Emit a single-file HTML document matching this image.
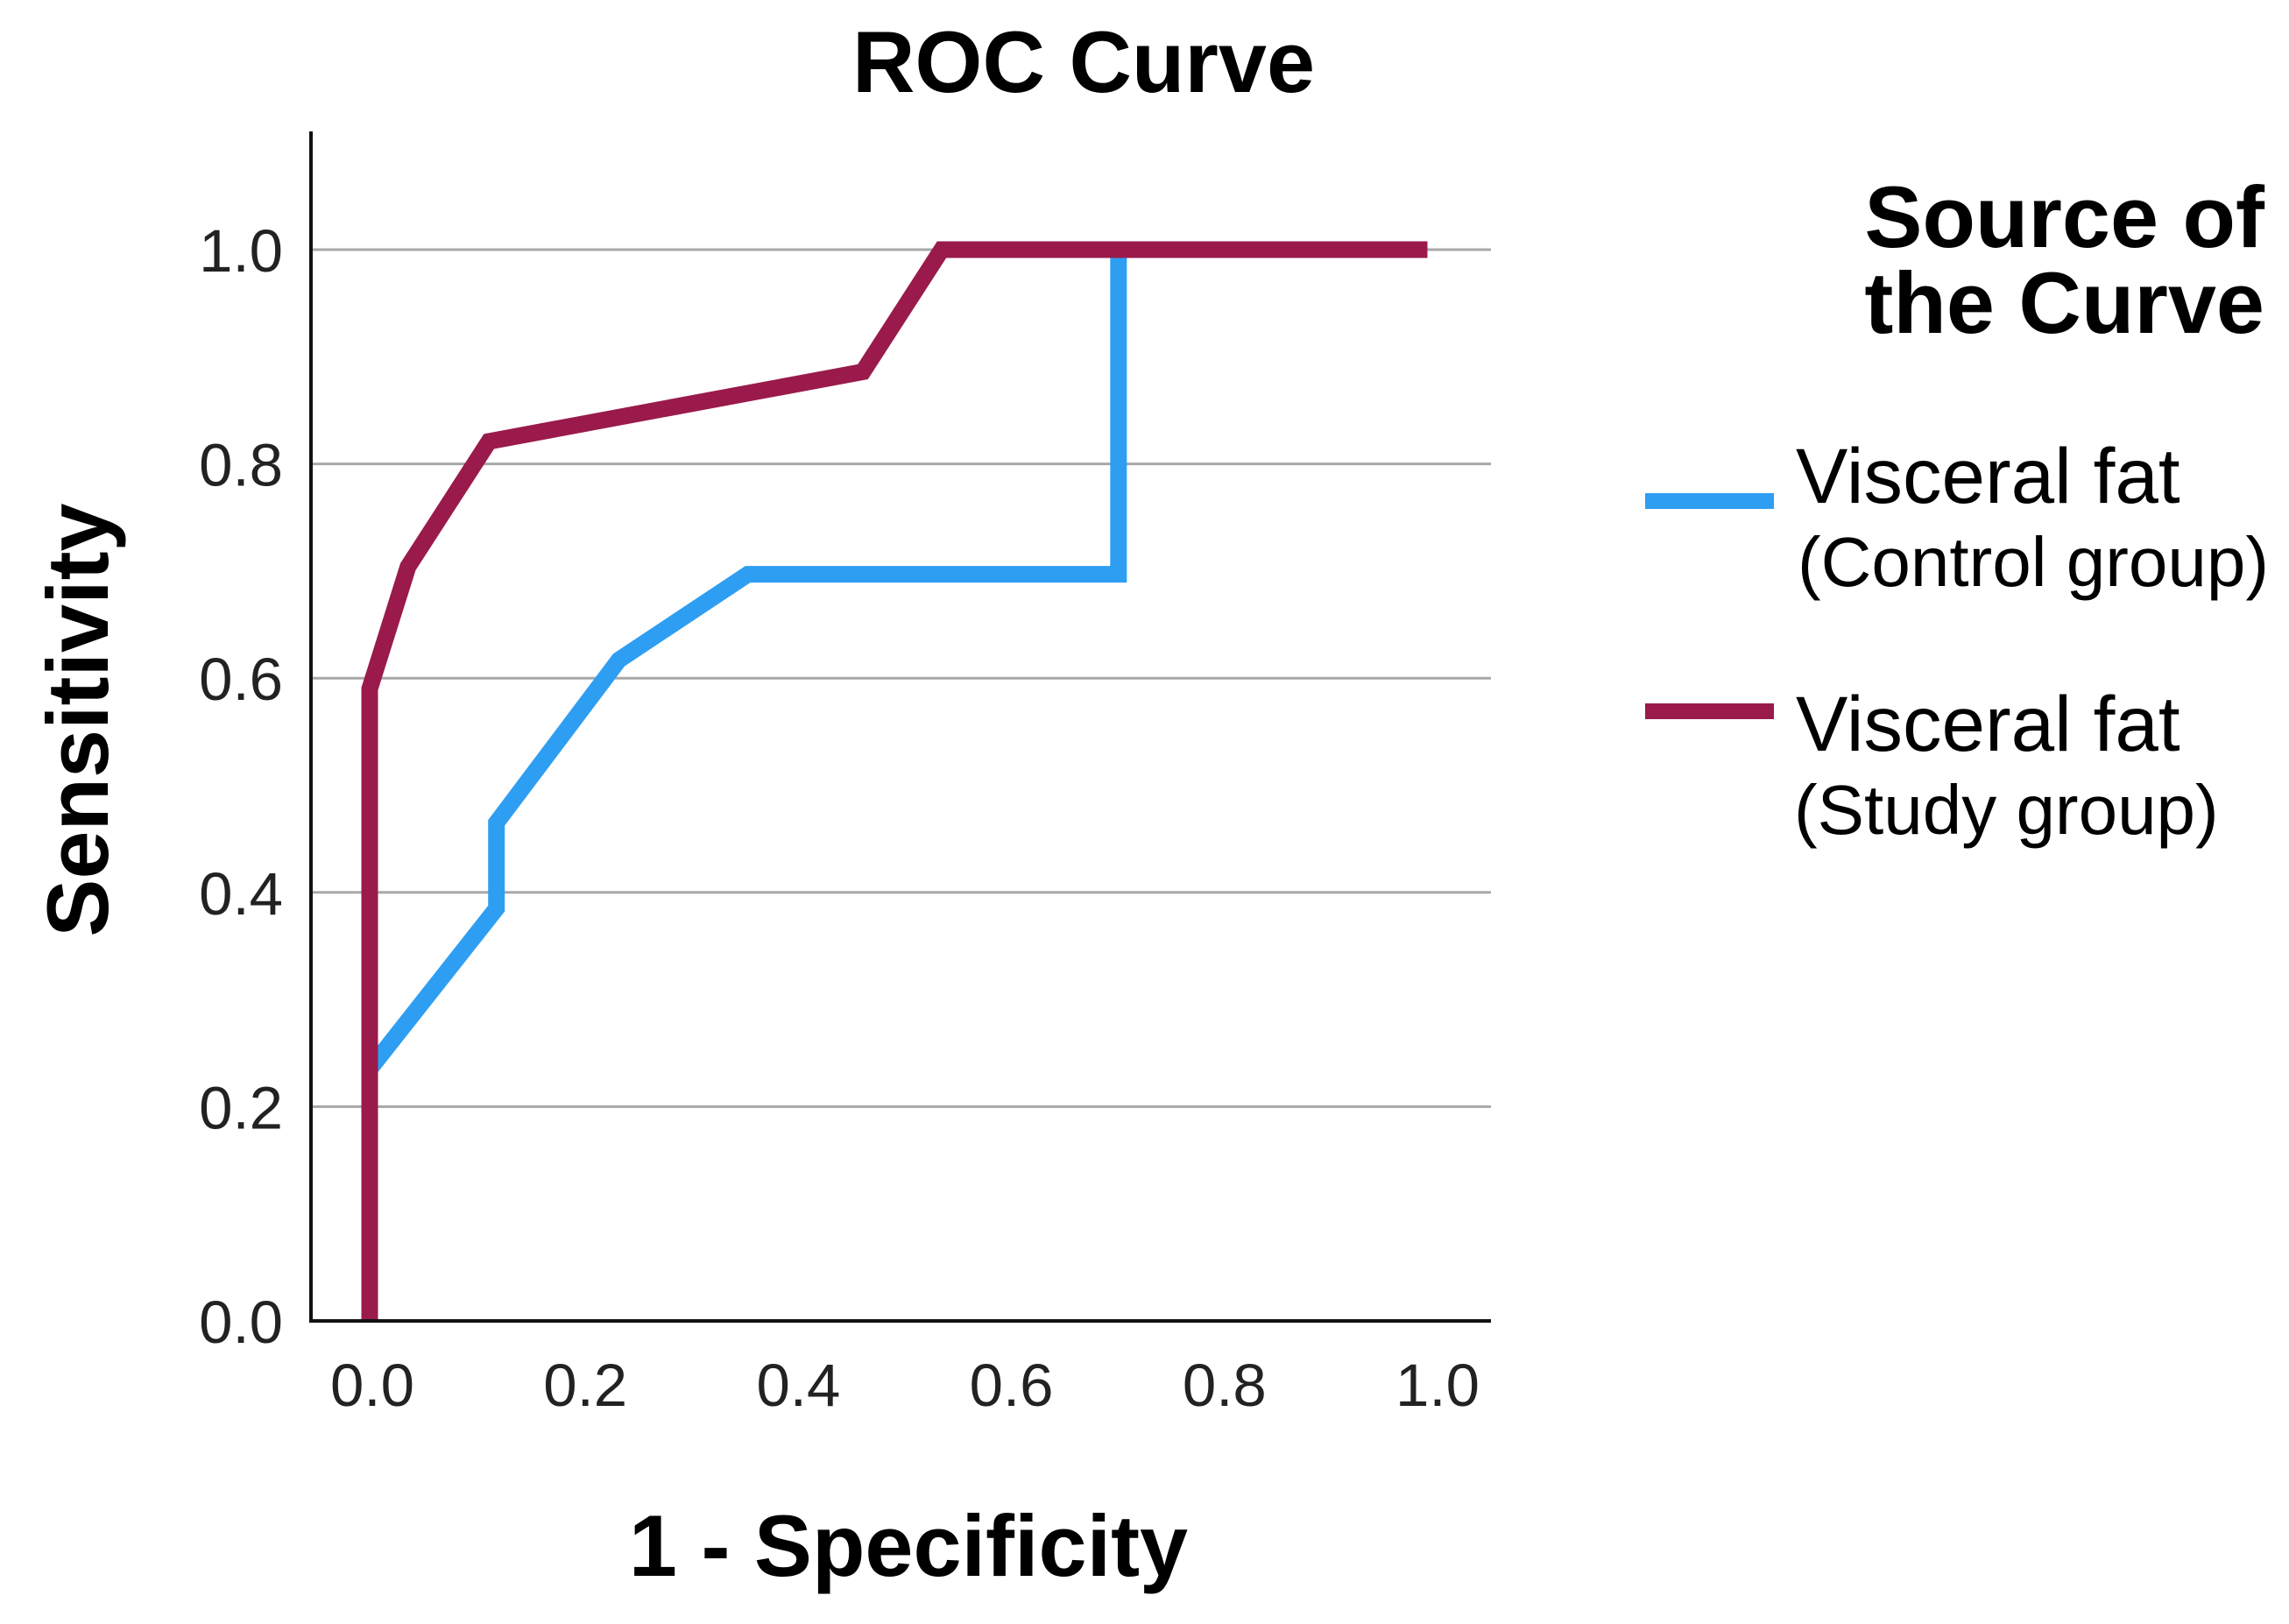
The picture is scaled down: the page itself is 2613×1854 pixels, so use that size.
<!DOCTYPE html>
<html><head><meta charset="utf-8"><style>
html,body{margin:0;padding:0;background:#fff;}
svg{display:block;font-family:"Liberation Sans",Arial,sans-serif;}
</style></head><body>
<svg id="chart" width="2613" height="1854" viewBox="0 0 2613 1854">
<text x="1237" y="105" text-anchor="middle" font-size="99" font-weight="bold">ROC Curve</text>
<text transform="translate(123,822) rotate(-90)" text-anchor="middle" font-size="99" font-weight="bold">Sensitivity</text>
<text x="1037" y="1799" text-anchor="middle" font-size="99" font-weight="bold">1 - Specificity</text>
<g id="grid"></g>
<g id="ticks"></g>
<g id="series"></g>
<line x1="355" y1="150" x2="355" y2="1510" stroke="#111" stroke-width="4"/>
<line x1="353" y1="1508" x2="1702" y2="1508" stroke="#111" stroke-width="4"/>
<g>
<text x="2585" y="282" text-anchor="end" font-size="99" font-weight="bold">Source of</text>
<text x="2585" y="380" text-anchor="end" font-size="99" font-weight="bold">the Curve</text>
<g>
<line x1="1878" y1="572" x2="2025" y2="572" stroke="#2E9EF2" stroke-width="18"/>
<text x="2050" y="574" font-size="89">Visceral fat</text>
<text x="2052" y="669" font-size="80">(Control group)</text>
</g>
<g>
<line x1="1878" y1="812" x2="2025" y2="812" stroke="#9A1A4B" stroke-width="18"/>
<text x="2050" y="857" font-size="89">Visceral fat</text>
<text x="2048" y="952" font-size="80">(Study group)</text>
</g>
</g>
</svg>
<script>
const yTicks = [0.0, 0.2, 0.4, 0.6, 0.8, 1.0];
const xTicks = [0.0, 0.2, 0.4, 0.6, 0.8, 1.0];
const tickLabels = ["0.0", "0.2", "0.4", "0.6", "0.8", "1.0"];
const controlX = [0, 0.119, 0.119, 0.234, 0.355, 0.703, 0.703];
const controlY = [0.235, 0.385, 0.465, 0.617, 0.697, 0.697, 1.0];
const studyX = [0, 0, 0.036, 0.112, 0.463, 0.537, 0.993];
const studyY = [0, 0.59, 0.704, 0.821, 0.886, 1.0, 1.0];

const NS = "http://www.w3.org/2000/svg";
function sx(v){ return 422 + v * (1638 - 422); }
function sy(v){ return 1508 - v * (1508 - 285); }
const grid = document.getElementById('grid');
const ticks = document.getElementById('ticks');
yTicks.forEach((t, i) => {
  if (t > 0) {
    const l = document.createElementNS(NS, 'line');
    l.setAttribute('x1', 357); l.setAttribute('x2', 1702);
    l.setAttribute('y1', sy(t)); l.setAttribute('y2', sy(t));
    l.setAttribute('stroke', '#a8a8a8'); l.setAttribute('stroke-width', 3);
    
    
    grid.appendChild(l);
  }
  const tx = document.createElementNS(NS, 'text');
  tx.setAttribute('x', 323); tx.setAttribute('y', sy(t) + 25);
  tx.setAttribute('text-anchor', 'end'); tx.setAttribute('font-size', 69); tx.setAttribute('fill', '#222');
  tx.textContent = tickLabels[i];
  
  
  ticks.appendChild(tx);
});
xTicks.forEach((t, i) => {
  const tx = document.createElementNS(NS, 'text');
  tx.setAttribute('x', sx(t) + 3); tx.setAttribute('y', 1605);
  tx.setAttribute('text-anchor', 'middle'); tx.setAttribute('font-size', 69); tx.setAttribute('fill', '#222');
  tx.textContent = tickLabels[i];
  
  
  ticks.appendChild(tx);
});
const series = document.getElementById('series');
function draw(xs, ys, color, name){
  const p = document.createElementNS(NS, 'polyline');
  p.setAttribute('points', xs.map((x, i) => sx(x) + ',' + sy(ys[i])).join(' '));
  p.setAttribute('fill', 'none'); p.setAttribute('stroke', color);
  p.setAttribute('stroke-width', 19); p.setAttribute('stroke-linejoin', 'miter');
  
  
  series.appendChild(p);
}
draw(controlX, controlY, '#2E9EF2', 'control-group-curve');
draw(studyX, studyY, '#9A1A4B', 'study-group-curve');
</script>
</body></html>
